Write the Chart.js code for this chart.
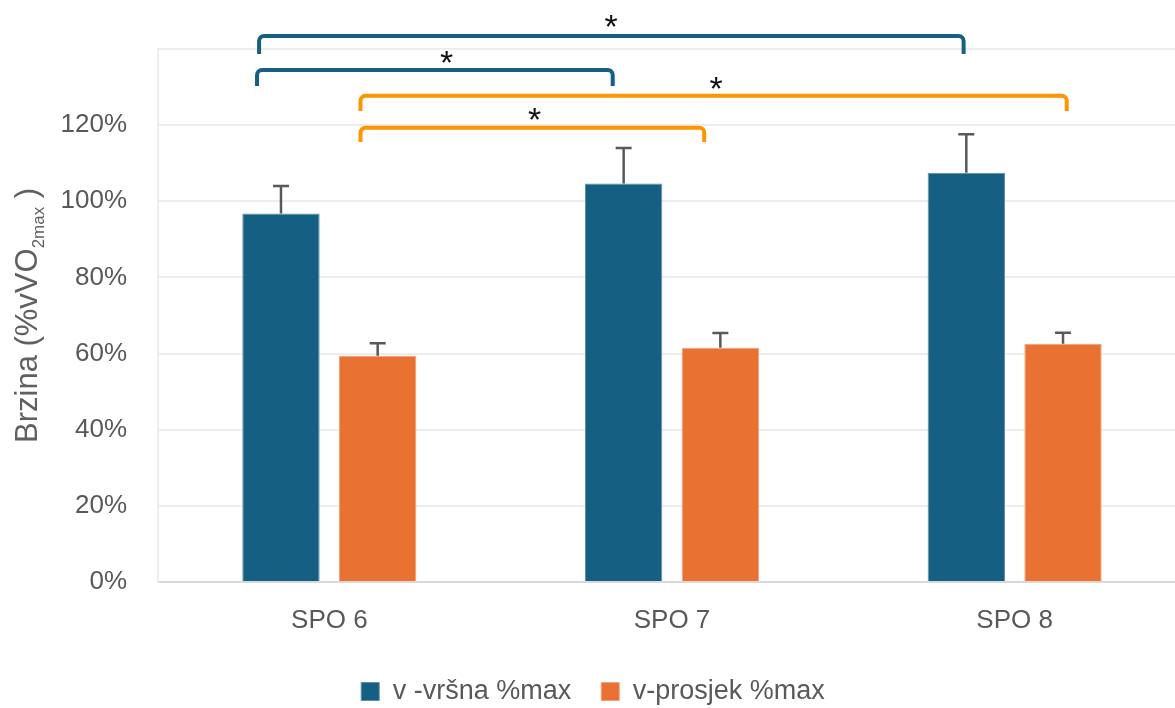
<!DOCTYPE html>
<html lang="hr">
  <head>
    <meta charset="UTF-8" />
    <title>Brzina SPO</title>
    <script src="https://cdn.jsdelivr.net/npm/chart.js"></script>
    <style>
      html,
      body {
        margin: 0;
        padding: 0;
        background: #ffffff;
        overflow: hidden;
      }
      #wrap {
        width: 1186px;
        height: 708px;
        position: relative;
      }
    </style>
  </head>
  <body>
    <div id="wrap">
      <canvas id="speedChart"></canvas>
    </div>
    <script>
      // categories and series (percent of vVO2max)
      const categories = ['SPO 6', 'SPO 7', 'SPO 8']
      const peakLabel = 'v -vršna %max'
      const meanLabel = 'v-prosjek %max'
      const peakValues = [96.8, 104.7, 107.5]
      const peakSD = [7.2, 9.3, 10.1]
      const meanValues = [59.4, 61.5, 62.6]
      const meanSD = [3.3, 3.9, 2.9]
      const yTicks = [0, 20, 40, 60, 80, 100, 120]

      // significance brackets: [from category, to category, level, leg end]
      const peakBrackets = [
        [-0.205, 1.851, 143.4, 138.7],
        [-0.211, 0.827, 134.5, 130.3]
      ]
      const meanBrackets = [
        [0.091, 2.152, 127.7, 123.7],
        [0.091, 1.094, 119.3, 115.6]
      ]
      // star marks: [category position, level]
      const stars = [
        [0.822, 147.4],
        [0.342, 137.9],
        [1.129, 131.1],
        [0.599, 122.9]
      ]

      const BLUE = '#156082'
      const ORANGE = '#E97132'
      const BRACKET_ORANGE = '#FF9500'
      const GREY = '#595959'
      const FONT = "'Liberation Sans', Arial, sans-serif"

      // error bars (upper half only) on top of each bar
      const errorBars = {
        id: 'errorBars',
        afterDatasetsDraw(chart) {
          const ctx = chart.ctx
          const y = chart.scales.y
          const sds = [peakSD, meanSD]
          ctx.save()
          ctx.strokeStyle = GREY
          ctx.lineWidth = 2.5
          chart.data.datasets.forEach((ds, di) => {
            chart.getDatasetMeta(di).data.forEach((bar, i) => {
              const top = y.getPixelForValue(ds.data[i] + sds[di][i])
              ctx.beginPath()
              ctx.moveTo(bar.x, bar.y)
              ctx.lineTo(bar.x, top)
              ctx.moveTo(bar.x - 8, top)
              ctx.lineTo(bar.x + 8, top)
              ctx.stroke()
            })
          })
          ctx.restore()
        }
      }

      // brackets and stars above the bars
      const significance = {
        id: 'significance',
        afterDraw(chart) {
          const ctx = chart.ctx
          const x = chart.scales.x
          const y = chart.scales.y
          const r = 5
          function bracket(b, color) {
            const x1 = x.getPixelForValue(b[0])
            const x2 = x.getPixelForValue(b[1])
            const yTop = y.getPixelForValue(b[2])
            const yLeg = y.getPixelForValue(b[3])
            ctx.strokeStyle = color
            ctx.beginPath()
            ctx.moveTo(x1, yLeg)
            ctx.arcTo(x1, yTop, x1 + r, yTop, r)
            ctx.arcTo(x2, yTop, x2, yTop + r, r)
            ctx.lineTo(x2, yLeg)
            ctx.stroke()
          }
          ctx.save()
          ctx.lineWidth = 4
          ctx.lineCap = 'butt'
          peakBrackets.forEach(b => bracket(b, BLUE))
          meanBrackets.forEach(b => bracket(b, BRACKET_ORANGE))

          ctx.fillStyle = '#111111'
          ctx.font = '34px ' + FONT
          ctx.textAlign = 'center'
          ctx.textBaseline = 'alphabetic'
          const m = ctx.measureText('*')
          const shift = (m.actualBoundingBoxAscent - m.actualBoundingBoxDescent) / 2
          stars.forEach(s => {
            ctx.fillText('*', x.getPixelForValue(s[0]), y.getPixelForValue(s[1]) + shift)
          })
          ctx.restore()
        }
      }

      // rotated axis title with subscript
      const yTitle = {
        id: 'yTitle',
        afterDraw(chart) {
          const ctx = chart.ctx
          ctx.save()
          ctx.translate(37, 443)
          ctx.rotate(-Math.PI / 2)
          ctx.fillStyle = '#606060'
          ctx.textBaseline = 'alphabetic'
          ctx.textAlign = 'left'
          ctx.font = '31px ' + FONT
          ctx.fillText('Brzina (%vVO', 0, 0)
          let w = ctx.measureText('Brzina (%vVO').width
          ctx.font = '17px ' + FONT
          ctx.fillText('2max', w, 7)
          w += ctx.measureText('2max').width
          ctx.font = '31px ' + FONT
          ctx.fillText(' )', w, 0)
          ctx.restore()
        }
      }

      new Chart(document.getElementById('speedChart'), {
        type: 'bar',
        data: {
          labels: categories,
          datasets: [
            {
              label: peakLabel,
              data: peakValues,
              backgroundColor: BLUE,
              borderColor: '#5d8fa6',
              borderWidth: 1,
              categoryPercentage: 0.5645,
              barPercentage: 0.8
            },
            {
              label: meanLabel,
              data: meanValues,
              backgroundColor: ORANGE,
              borderColor: '#f0a27a',
              borderWidth: 1,
              categoryPercentage: 0.5645,
              barPercentage: 0.8
            }
          ]
        },
        options: {
          responsive: true,
          maintainAspectRatio: false,
          animation: false,
          layout: { padding: { top: 49, left: 0, right: 0, bottom: -7 } },
          plugins: {
            legend: {
              position: 'bottom',
              labels: {
                boxWidth: 18,
                boxHeight: 18,
                padding: 30,
                color: GREY,
                font: { family: FONT, size: 27 }
              }
            },
            tooltip: { enabled: false }
          },
          scales: {
            x: {
              grid: { display: false, drawTicks: false },
              border: { color: '#D9D9D9', width: 2 },
              ticks: {
                color: GREY,
                padding: 23,
                font: { family: FONT, size: 26 }
              },
              afterFit: s => {
                s.height = 66
              }
            },
            y: {
              min: 0,
              max: 140,
              afterBuildTicks: s => {
                s.ticks = yTicks.concat([140]).map(v => ({ value: v }))
              },
              ticks: {
                color: GREY,
                padding: 31,
                font: { family: FONT, size: 26 },
                callback: v => (yTicks.includes(v) ? v + '%' : '')
              },
              grid: { color: '#EDEDED', lineWidth: 2, drawTicks: false },
              border: { color: '#EDEDED', width: 2 },
              afterFit: s => {
                s.width = 158
              }
            }
          }
        },
        plugins: [errorBars, significance, yTitle]
      })
    </script>
  </body>
</html>
